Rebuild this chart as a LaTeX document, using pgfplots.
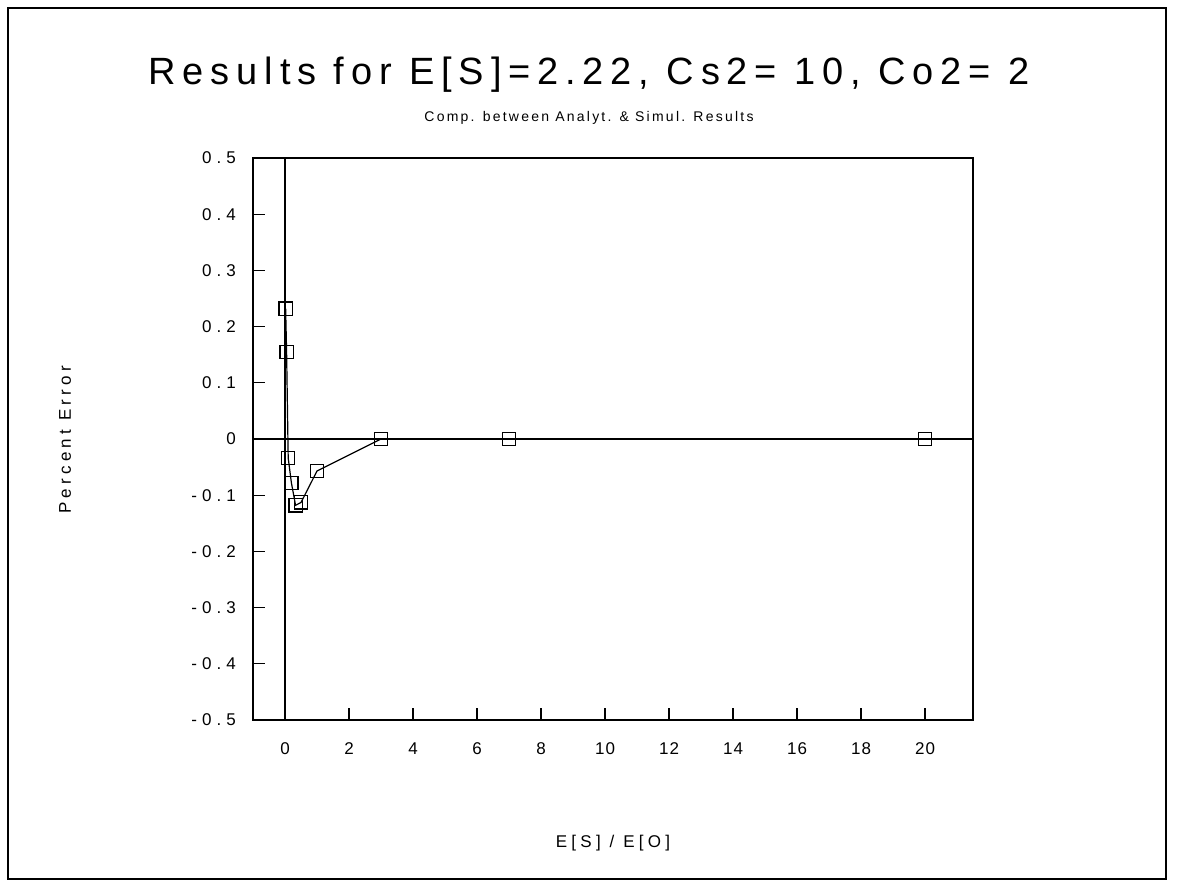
\documentclass[border=0pt]{standalone}
\usepackage{pgfplots}
\pgfplotsset{compat=1.18}
\usepackage{fontspec}
\setmainfont{Liberation Sans}
\begin{document}
\begin{tikzpicture}
% page 588.5 x 443.5 pt, i.e. 1 px of the reference = 0.5 pt
\useasboundingbox (0pt,0pt) rectangle (588.5pt,443.5pt);
\draw[line width=0.8pt] (4pt,4pt) rectangle (583pt,439.5pt);
\node at (294.5pt,406pt) {\fontsize{19}{21}\selectfont\addfontfeatures{LetterSpace=18}Results for E[S]=2.22, Cs2= 10, Co2= 2};
\node at (294.5pt,384.5pt) {\fontsize{7}{8}\selectfont\addfontfeatures{LetterSpace=16}Comp. between Analyt. \& Simul. Results};
\node[rotate=90] at (32.5pt,223.5pt) {\fontsize{8.5}{10}\selectfont\addfontfeatures{LetterSpace=25}Percent Error};
\node at (306.5pt,22pt) {\fontsize{8.5}{10}\selectfont\addfontfeatures{LetterSpace=25}E[S] / E[O]};
\begin{axis}[at={(126.5pt,83.5pt)}, anchor=south west, scale only axis, width=360pt, height=281pt,
  xmin=-1, xmax=21.5, ymin=-0.5, ymax=0.5,
  xtick={0,2,...,20}, ytick={-0.5,-0.4,...,0.5},
  tick align=inside, major tick length=6pt, xtick pos=bottom, ytick pos=left,
  axis line style={line width=0.6pt}, tick style={line width=0.6pt, black},
  /pgf/number format/assume math mode=true,
  yticklabel style={font=\fontsize{8.5}{10}\selectfont\addfontfeatures{LetterSpace=30},
    /pgf/number format/fixed, /pgf/number format/precision=1, xshift=-5pt},
  xticklabel style={font=\fontsize{8.5}{10}\selectfont\addfontfeatures{LetterSpace=6}, yshift=-8pt}]
\draw[line width=0.6pt] (axis cs:0,-0.5) -- (axis cs:0,0.5);
\draw[line width=0.6pt] (axis cs:-1,0) -- (axis cs:21.5,0);
\addplot[black, line width=0.6pt, mark=square, mark size=3.3pt] coordinates {
(0.02,0.232) (0.05,0.155) (0.1,-0.034) (0.2,-0.078) (0.33,-0.118) (0.5,-0.113) (1,-0.057) (3,0) (7,0) (20,0)};
\end{axis}
\end{tikzpicture}
\end{document}
